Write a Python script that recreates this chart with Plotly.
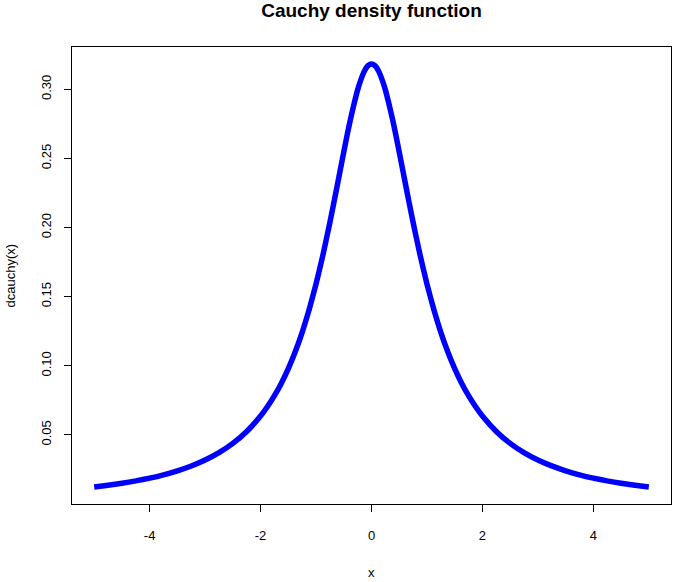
import plotly.graph_objects as go

# Values (x, dcauchy(x))
x_vals = [-5.0, -4.75, -4.5, -4.25, -4.0, -3.75, -3.5, -3.25, -3.0, -2.75, -2.5, -2.25,
          -2.0, -1.875, -1.75, -1.625, -1.5, -1.375, -1.25, -1.125, -1.0, -0.875, -0.75,
          -0.625, -0.5, -0.4375, -0.375, -0.3125, -0.25, -0.1875, -0.125, -0.0625, 0.0,
          0.0625, 0.125, 0.1875, 0.25, 0.3125, 0.375, 0.4375, 0.5, 0.625, 0.75, 0.875,
          1.0, 1.125, 1.25, 1.375, 1.5, 1.625, 1.75, 1.875, 2.0, 2.25, 2.5, 2.75, 3.0,
          3.25, 3.5, 3.75, 4.0, 4.25, 4.5, 4.75, 5.0]
y_vals = [0.01224, 0.01351, 0.01498, 0.01670, 0.01872, 0.02113, 0.02402, 0.02753, 0.03183,
          0.03717, 0.04390, 0.05250, 0.06366, 0.07049, 0.07835, 0.08743, 0.09794, 0.11012,
          0.12422, 0.14050, 0.15915, 0.18028, 0.20372, 0.22889, 0.25465, 0.26724, 0.27907,
          0.28976, 0.29959, 0.30738, 0.31341, 0.31709, 0.31831,
          0.31709, 0.31341, 0.30738, 0.29959, 0.28976, 0.27907, 0.26724, 0.25465, 0.22889,
          0.20372, 0.18028, 0.15915, 0.14050, 0.12422, 0.11012, 0.09794, 0.08743, 0.07835,
          0.07049, 0.06366, 0.05250, 0.04390, 0.03717, 0.03183, 0.02753, 0.02402, 0.02113,
          0.01872, 0.01670, 0.01498, 0.01351, 0.01224]

x_ticks = [-4, -2, 0, 2, 4]
y_ticks = [0.05, 0.10, 0.15, 0.20, 0.25, 0.30]
y_tick_labels = ["0.05", "0.10", "0.15", "0.20", "0.25", "0.30"]

FONT = "Liberation Sans, Arial, sans-serif"

fig = go.Figure()
fig.add_trace(go.Scatter(
    x=x_vals, y=y_vals, mode="lines",
    line=dict(color="#0000FF", width=5.5, shape="spline", smoothing=0.5),
    showlegend=False, hoverinfo="skip",
))

fig.update_layout(
    width=677, height=582,
    margin=dict(l=72, r=6, t=47, b=78),
    paper_bgcolor="white", plot_bgcolor="white",
    font=dict(family=FONT, size=13, color="black"),
    title=dict(text="<b>Cauchy density function</b>", x=0.5, xref="paper",
               y=1 - 10 / 582, yref="container", yanchor="middle", xanchor="center",
               font=dict(family=FONT, size=19, color="black")),
)

fig.update_xaxes(
    range=[-5.4, 5.4], tickmode="array", tickvals=x_ticks,
    ticktext=[str(v) for v in x_ticks],
    ticks="outside", ticklen=7, tickwidth=1, tickcolor="black",
    showline=True, linecolor="black", linewidth=1, mirror=True,
    showgrid=False, zeroline=False, ticklabelstandoff=12,
)
fig.update_yaxes(
    range=[0.0, 0.3306], tickmode="array", tickvals=y_ticks, ticktext=y_tick_labels,
    tickangle=-90,
    ticks="outside", ticklen=7, tickwidth=1, tickcolor="black",
    showline=True, linecolor="black", linewidth=1, mirror=True,
    showgrid=False, zeroline=False, ticklabelstandoff=8,
)

fig.add_annotation(text="x", xref="paper", yref="paper", x=0.5, y=-(572 - 504) / 457,
                   xanchor="center", yanchor="middle", showarrow=False,
                   font=dict(family=FONT, size=13))
fig.add_annotation(text="dcauchy(x)", xref="paper", yref="paper", x=(10 - 72) / 599, y=0.5,
                   xanchor="center", yanchor="middle", showarrow=False, textangle=-90,
                   font=dict(family=FONT, size=13))

fig.write_html("out.html")
